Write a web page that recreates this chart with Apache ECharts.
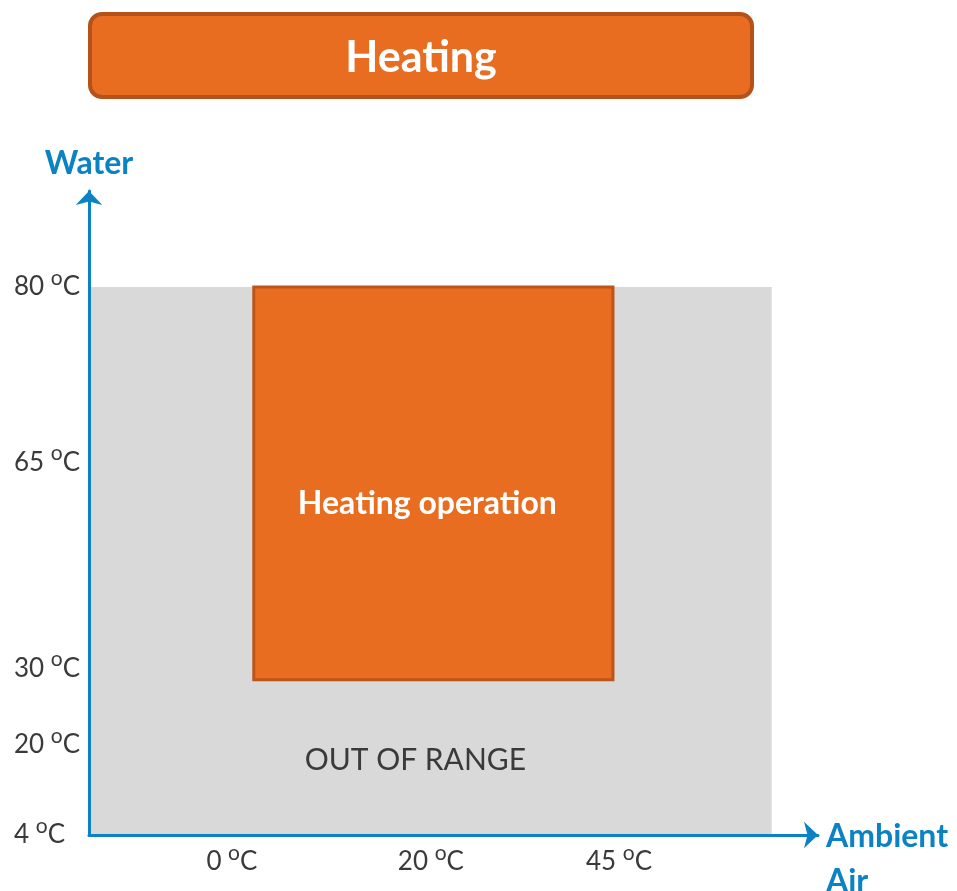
<!DOCTYPE html>
<html>
<head>
<meta charset="utf-8">
<script src="https://cdn.jsdelivr.net/npm/echarts@6/dist/echarts.min.js"></script>
<style>
  html, body { margin: 0; padding: 0; background: #fff; }
  #chart { width: 957px; height: 891px; }
</style>
</head>
<body>
<div id="chart"></div>
<script>
// tick temperatures shown on each axis
const ambientTicks = [0, 20, 45];
const waterTicks = [4, 20, 30, 65, 80];
// the axes are schematic (not to scale): where each tick sits, in % of axis length
const ambientSlots = [19.6, 46.9, 72.7];
const waterSlots = [0, 14.0, 25.9, 57.9, 85.1];
// operating envelope (deg C)
const heatingAmbient = [2.2, 44.2];
const heatingWater = [28.5, 80];
// whole drawn range (grey, out of range)
const outAmbient = [-14.4, 65.3];
const outWater = [4, 80];

const BLUE = "#0b82c4";
const ORANGE = "#e86d21";
const FONT = "Lato";

// piecewise linear temperature -> axis slot
const toSlot = (v, ticks, slots) => {
  let i = 0;
  while (i < ticks.length - 2 && v > ticks[i + 1]) i++;
  const t = (v - ticks[i]) / (ticks[i + 1] - ticks[i]);
  return Math.max(0, slots[i] + t * (slots[i + 1] - slots[i]));
};
const sx = (v) => toSlot(v, ambientTicks, ambientSlots);
const sy = (v) => toSlot(v, waterTicks, waterSlots);

const labelFor = (value, ticks, slots) => {
  let best = 0;
  slots.forEach((s, i) => {
    if (Math.abs(s - value) < Math.abs(slots[best] - value)) best = i;
  });
  return ticks[best] + " {s|o}C";
};

// superscript "o" in "ºC"
const tickRich = {
  s: { fontFamily: FONT, fontSize: 21, color: "#3a3a3a", padding: [0, 0, 17, 0] },
};

const chartInstance = echarts.init(document.getElementById("chart"));

const option = {
  animation: false,
  grid: { left: 89, right: 139, top: 191, bottom: 56, containLabel: false, outerBoundsMode: "none" },
  xAxis: {
    type: "value",
    min: 0,
    max: 100,
    z: 5,
    name: "Ambient\nAir",
    nameLocation: "end",
    nameGap: 8,
    nameTextStyle: {
      color: BLUE,
      fontFamily: FONT,
      fontWeight: "bold",
      fontSize: 32,
      lineHeight: 45,
      align: "left",
      verticalAlign: "top",
      padding: [-21, 0, 0, 0],
    },
    axisLine: {
      onZero: false,
      symbol: ["none", "arrow"],
      symbolSize: [20, 14],
      lineStyle: { color: BLUE, width: 3 },
    },
    axisTick: { show: false },
    splitLine: { show: false },
    axisLabel: {
      customValues: ambientTicks.map(sx),
      margin: 8,
      color: "#3a3a3a",
      fontFamily: FONT,
      fontSize: 26,
      formatter: (v) => labelFor(v, ambientTicks, ambientSlots),
      rich: tickRich,
    },
  },
  yAxis: {
    type: "value",
    min: 0,
    max: 100,
    z: 5,
    name: "Water",
    nameLocation: "end",
    nameGap: 11,
    nameTextStyle: {
      color: BLUE,
      fontFamily: FONT,
      fontWeight: "bold",
      fontSize: 32,
    },
    axisLine: {
      onZero: false,
      symbol: ["none", "arrow"],
      symbolSize: [20, 14],
      lineStyle: { color: BLUE, width: 3 },
    },
    axisTick: { show: false },
    splitLine: { show: false },
    axisLabel: {
      customValues: waterTicks.map(sy),
      margin: 75,
      align: "left",
      color: "#3a3a3a",
      fontFamily: FONT,
      fontSize: 26,
      formatter: (v) => labelFor(v, waterTicks, waterSlots),
      rich: tickRich,
    },
  },
  graphic: [
    {
      type: "group",
      children: [
        {
          type: "rect",
          shape: { x: 90, y: 14, width: 662, height: 83, r: 12 },
          style: { fill: ORANGE, stroke: "#b5521a", lineWidth: 4 },
        },
        {
          type: "text",
          x: 421,
          y: 58,
          style: {
            text: "Heating",
            fill: "#fff",
            font: "bold 43px " + FONT,
            align: "center",
            verticalAlign: "middle",
          },
        },
      ],
    },
  ],
  series: [
    {
      type: "custom",
      z: 2,
      encode: { x: [0, 1], y: [2, 3] },
      data: [
        { name: "OUT OF RANGE", value: [sx(outAmbient[0]), sx(outAmbient[1]), sy(outWater[0]), sy(outWater[1])] },
        { name: "Heating operation", value: [sx(heatingAmbient[0]), sx(heatingAmbient[1]), sy(heatingWater[0]), sy(heatingWater[1])] },
      ],
      renderItem: (params, api) => {
        const a = api.coord([api.value(0), api.value(2)]);
        const b = api.coord([api.value(1), api.value(3)]);
        const x = a[0], y = b[1], w = b[0] - a[0], h = a[1] - b[1];
        if (params.dataIndex === 0) {
          return {
            type: "group",
            children: [
              { type: "rect", shape: { x, y, width: w, height: h }, style: { fill: "#d9d9d9" } },
              {
                type: "text",
                x: x + w / 2 - 15,
                y: y + h - 75,
                style: {
                  text: "OUT OF RANGE",
                  fill: "#3a3a3a",
                  font: "30px " + FONT,
                  align: "center",
                  verticalAlign: "middle",
                },
              },
            ],
          };
        }
        return {
          type: "group",
          children: [
            {
              type: "rect",
              shape: { x, y, width: w, height: h },
              style: { fill: ORANGE, stroke: "#bb5519", lineWidth: 3 },
            },
            {
              type: "text",
              x: x + w / 2 - 6,
              y: y + h / 2 + 20,
              style: {
                text: "Heating operation",
                fill: "#fff",
                font: "bold 32px " + FONT,
                align: "center",
                verticalAlign: "middle",
              },
            },
          ],
        };
      },
    },
  ],
};

chartInstance.setOption(option);
</script>
</body>
</html>
